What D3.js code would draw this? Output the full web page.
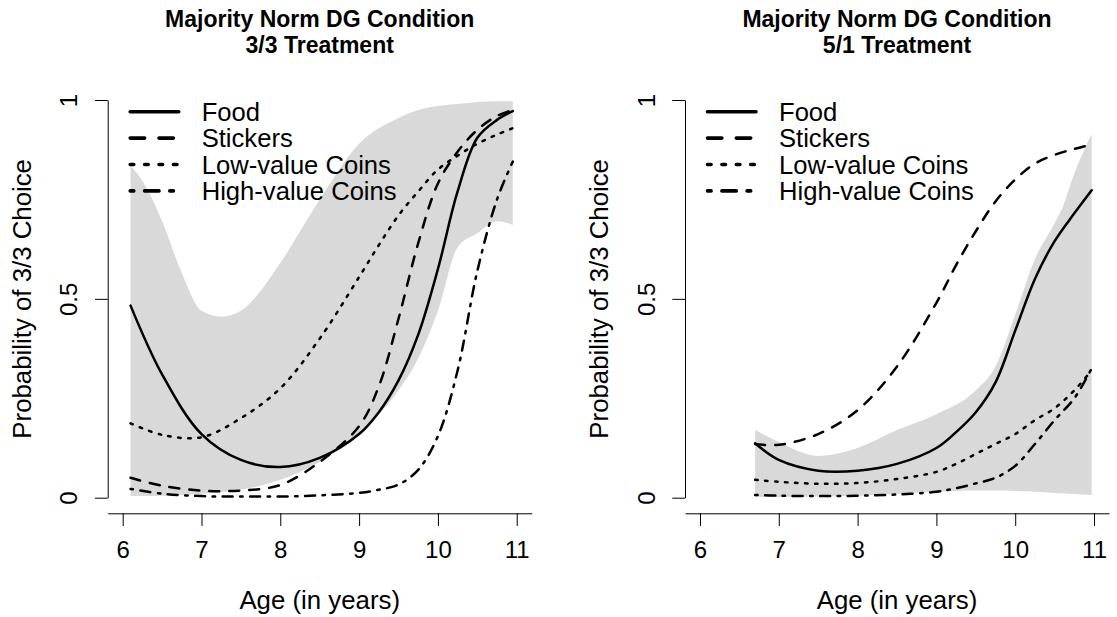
<!DOCTYPE html>
<html>
<head>
  <meta charset="utf-8">
  <title>Majority Norm DG Condition</title>
  <style>
    body { margin: 0; background: #fff; }
    svg text { font-family: "Liberation Sans", Arial, Helvetica, sans-serif; fill: #000; }
    .title { font-weight: bold; font-size: 23px; text-anchor: middle; }
    .axis text { font-family: "Liberation Sans", Arial, sans-serif; }
    .axis path, .axis line { stroke: #000; stroke-width: 1; }
    .lab { font-size: 25.8px; text-anchor: middle; }
    .band { fill: #d9d9d9; stroke: none; }
    .curve { fill: none; stroke: #000; stroke-linecap: round; }
    .legend text { font-size: 25.6px; }
  </style>
</head>
<body>
  <svg id="canvas" width="1117" height="617"></svg>
  <script src="https://d3js.org/d3.v7.min.js"></script>
  <script>
    // ---- data ----
    const seriesNames = ["Food", "Stickers", "Low-value Coins", "High-value Coins"];
    const xTicks = [6, 7, 8, 9, 10, 11];
    const yTicks = [0, 0.5, 1];

    // 3/3 treatment
    const ages33 = [6.1, 6.5, 7, 7.5, 8, 8.5, 9, 9.25, 9.5, 9.75, 10, 10.25, 10.5, 10.75, 10.95];
    const food33 = [0.483, 0.31, 0.16, 0.095, 0.077, 0.10, 0.16, 0.215, 0.295, 0.41, 0.575, 0.77, 0.905, 0.95, 0.972];
    const stickers33 = [0.05, 0.03, 0.018, 0.018, 0.032, 0.09, 0.18, 0.28, 0.45, 0.64, 0.79, 0.87, 0.925, 0.96, 0.975];
    const low33 = [0.187, 0.158, 0.152, 0.2, 0.275, 0.40, 0.555, 0.635, 0.71, 0.77, 0.825, 0.86, 0.89, 0.913, 0.929];
    const high33 = [0.022, 0.01, 0.004, 0.003, 0.003, 0.006, 0.012, 0.02, 0.033, 0.07, 0.155, 0.32, 0.57, 0.75, 0.845];
    const bandAges33 = [6.1, 6.3, 6.5, 6.75, 7, 7.25, 7.5, 7.75, 8, 8.5, 9, 9.5, 9.75, 10, 10.25, 10.5, 10.75, 10.95];
    const upper33 = [0.835, 0.78, 0.695, 0.565, 0.47, 0.455, 0.47, 0.52, 0.59, 0.75, 0.89, 0.955, 0.975, 0.985, 0.99, 0.995, 0.997, 0.997];
    const lower33 = [0.004, 0.004, 0.005, 0.007, 0.01, 0.014, 0.02, 0.03, 0.045, 0.09, 0.16, 0.27, 0.35, 0.47, 0.63, 0.665, 0.695, 0.686];

    // 5/1 treatment
    const ages51 = [6.7, 7, 7.5, 8, 8.5, 9, 9.25, 9.5, 9.75, 10, 10.25, 10.5, 10.75, 10.97];
    const food51 = [0.137, 0.095, 0.068, 0.068, 0.085, 0.125, 0.165, 0.215, 0.29, 0.42, 0.55, 0.645, 0.715, 0.773];
    const stickers51 = [0.135, 0.133, 0.16, 0.22, 0.33, 0.49, 0.585, 0.67, 0.745, 0.80, 0.84, 0.862, 0.877, 0.888];
    const low51 = [0.045, 0.04, 0.035, 0.037, 0.047, 0.065, 0.085, 0.11, 0.135, 0.16, 0.195, 0.225, 0.27, 0.32];
    const high51 = [0.007, 0.005, 0.004, 0.005, 0.008, 0.015, 0.024, 0.036, 0.05, 0.08, 0.135, 0.195, 0.25, 0.325];
    const bandAges51 = [6.7, 7, 7.5, 8, 8.5, 9, 9.5, 9.75, 10, 10.25, 10.5, 10.6, 10.75, 10.97];
    const upper51 = [0.17, 0.14, 0.105, 0.125, 0.17, 0.21, 0.27, 0.33, 0.46, 0.6, 0.69, 0.73, 0.815, 0.915];
    const lower51 = [0.002, 0.002, 0.003, 0.005, 0.01, 0.015, 0.018, 0.018, 0.017, 0.015, 0.012, 0.011, 0.009, 0.007];

    const panels = [
      { title: ["Majority Norm DG Condition", "3/3 Treatment"], ox: 0,
        ages: ages33, series: [food33, stickers33, low33, high33],
        bandAges: bandAges33, upper: upper33, lower: lower33 },
      { title: ["Majority Norm DG Condition", "5/1 Treatment"], ox: 577.3,
        ages: ages51, series: [food51, stickers51, low51, high51],
        bandAges: bandAges51, upper: upper51, lower: lower51 }
    ];

    // ---- layout ----
    const dims = { left: 107.7, right: 531.7, top: 100, bottom: 497.7, xaxis_y: 513.3, tick: 12.7 };
    const lwd = 2.5, lwd_leg = 3.6;
    // R lty patterns: solid, dashed "44", dotted "13", dotdash "1343"
    const dash = (w, i) => [null, [4 * w, 4 * w], [w, 3 * w], [w, 3 * w, 4 * w, 3 * w]][i];

    const svg = d3.select("svg#canvas");

    panels.forEach(p => {
      const g = svg.append("g");
      const x = d3.scaleLinear().domain([5.81, 11.19]).range([p.ox + dims.left, p.ox + dims.right]);
      const y = d3.scaleLinear().domain([0, 1]).range([dims.bottom, dims.top]);

      // confidence band
      const band = p.bandAges.map((a, i) => ({ a: a, lo: p.lower[i], hi: p.upper[i] }));
      g.append("path")
        .datum(band)
        .attr("class", "band")
        .attr("d", d3.area().x(d => x(d.a)).y0(d => y(d.lo)).y1(d => y(d.hi)).curve(d3.curveMonotoneX));

      // curves
      const line = d3.line().x(d => x(d.a)).y(d => y(d.v)).curve(d3.curveCatmullRom.alpha(0.5));
      p.series.forEach((vals, k) => {
        g.append("path")
          .datum(p.ages.map((a, i) => ({ a: a, v: vals[i] })))
          .attr("class", "curve")
          .attr("stroke-width", lwd)
          .attr("stroke-dasharray", dash(lwd, k) ? dash(lwd, k).join(",") : null)
          .attr("d", line);
      });

      // axes
      g.append("g")
        .attr("class", "axis")
        .attr("transform", "translate(0," + dims.xaxis_y + ")")
        .call(d3.axisBottom(x).tickValues(xTicks).tickSize(dims.tick).tickSizeOuter(0)
          .tickPadding(15).tickFormat(d3.format("d")))
        .call(a => a.selectAll("text").attr("font-size", 24));

      g.append("g")
        .attr("class", "axis")
        .attr("transform", "translate(" + (p.ox + dims.left) + ",0)")
        .call(d3.axisLeft(y).tickValues(yTicks).tickSize(dims.tick).tickSizeOuter(0).tickFormat(d => String(d)))
        .call(a => a.selectAll(".tick text")
          .attr("transform", "rotate(-90)")
          .attr("x", 0).attr("y", -30.5).attr("dy", null)
          .attr("text-anchor", "middle").attr("font-size", 24));

      // axis titles
      g.append("text")
        .attr("class", "lab")
        .attr("x", p.ox + (dims.left + dims.right) / 2)
        .attr("y", 609)
        .text("Age (in years)");

      g.append("text")
        .attr("class", "lab")
        .attr("transform", "translate(" + (p.ox + dims.left - 77.2) + "," + ((dims.top + dims.bottom) / 2) + ")rotate(-90)")
        .text("Probability of 3/3 Choice");

      // title
      g.selectAll(".title")
        .data(p.title)
        .enter().append("text")
        .attr("class", "title")
        .attr("x", p.ox + (dims.left + dims.right) / 2)
        .attr("y", (_, i) => 27 + i * 26)
        .text(t => t);

      // legend
      const leg = g.append("g").attr("class", "legend");
      seriesNames.forEach((name, k) => {
        const ly = 111.7 + k * 26.4;
        leg.append("line")
          .attr("x1", p.ox + dims.left + 22.5).attr("x2", p.ox + dims.left + 71)
          .attr("y1", ly).attr("y2", ly)
          .attr("class", "curve")
          .attr("stroke-width", lwd_leg)
          .attr("stroke-dasharray", dash(lwd_leg, k) ? dash(lwd_leg, k).join(",") : null);
        leg.append("text")
          .attr("x", p.ox + dims.left + 94)
          .attr("y", ly + 9)
          .text(name);
      });
    });
  </script>
</body>
</html>
